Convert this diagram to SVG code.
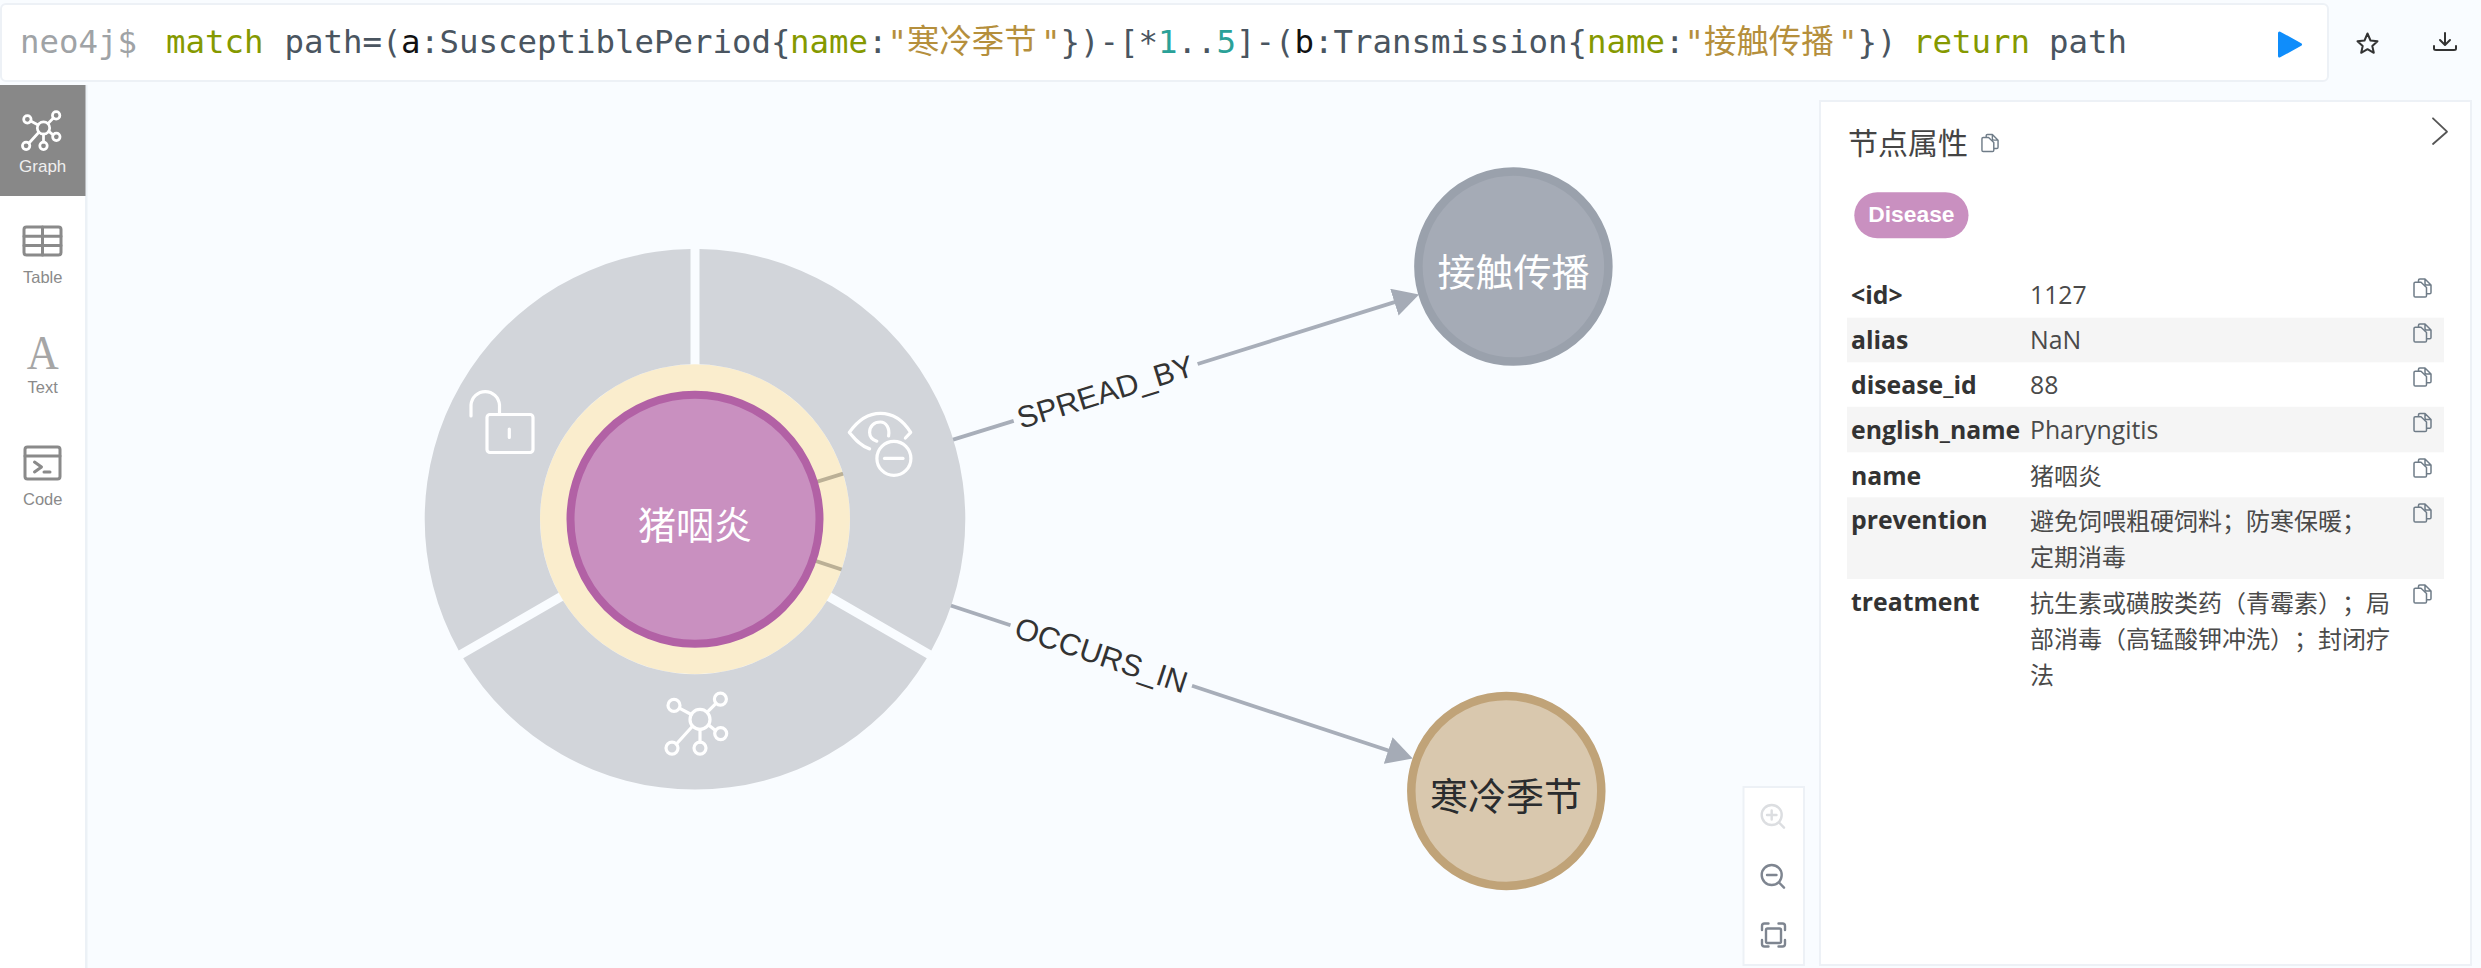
<svg xmlns="http://www.w3.org/2000/svg" width="2481" height="968" viewBox="0 0 2481 968">
<style>
.q{font-family:"DejaVu Sans Mono","Liberation Mono","Noto Sans CJK SC",monospace;font-size:32.4px;fill:#4a5560}
.kw{fill:#859900}.str{fill:#b58f3c}.num{fill:#2aa198}.var{fill:#111}
.cn{font-family:"Noto Sans CJK SC",sans-serif}
.side{font-family:"Liberation Sans",Arial,sans-serif;font-size:16.5px;text-anchor:middle;fill:#8a8a8a}
.ic{fill:none;stroke:#8a8a8a;stroke-width:3;stroke-linecap:round;stroke-linejoin:round}
.wh{fill:none;stroke:#fff;stroke-width:3.2;stroke-linecap:round;stroke-linejoin:round}
.seg{fill:#d2d5da}
.rel{fill:none;stroke:#a8aeb9;stroke-width:3.8}
.rl{font-family:"Liberation Sans",Arial,sans-serif;font-size:30.500px;fill:#333;text-anchor:middle}
.nl{font-family:"Noto Sans CJK SC",sans-serif;font-size:38px;text-anchor:middle}
.k{font-family:"Open Sans","Noto Sans CJK SC",sans-serif;font-size:24.800px;font-weight:700;fill:#333}
.v{font-family:"Open Sans","Noto Sans CJK SC",sans-serif;font-size:24.800px;fill:#4a4a4a}
.vc{font-family:"Noto Sans CJK SC",sans-serif;font-size:24px;fill:#4a4a4a;text-spacing-trim:space-all}
.alt{fill:#f5f5f5}
.card{fill:#fff;stroke:#edf1f6;stroke-width:2}
</style>
<defs>
<marker id="arrow" markerUnits="userSpaceOnUse" markerWidth="26" markerHeight="28" viewBox="0 0 24 26" refX="18" refY="13" orient="auto"><path d="M0,0L24,13L0,26Z" fill="#a5abb6"/></marker>
<symbol id="copy" viewBox="0 0 19 20" overflow="visible"><path d="M5.500,4V2.200Q5.500,1 6.800,1H12L18,7V14.500Q18,15.800 16.700,15.800H13.500M12,1V5.500Q12,7 13.500,7H18M1,5.500Q1,4.200 2.300,4.200H8L13.500,9.500V17.700Q13.500,19 12.200,19H2.300Q1,19 1,17.700Z" fill="none" stroke="#6f7c88" stroke-width="1.500" stroke-linejoin="round"/></symbol>
<g id="net-glyph">
<circle cx="0" cy="0" r="10"/><circle cx="-26" cy="-14" r="6"/><circle cx="20.400" cy="-20.300" r="6"/><circle cx="20.700" cy="14.200" r="6"/><circle cx="0" cy="28.700" r="6"/><circle cx="-28" cy="28.700" r="6"/>
<path d="M-8.700,-4.900L-20.700,-11.200M7.300,-7.300L16,-16M8.600,5.500L15.500,11M0,10V22.700M-7.500,6.800L-23.600,24.600"/>
</g>
</defs>
<rect id="bg" width="2481" height="968" fill="#f9fcff"/>

<g id="query-bar">
<rect x="1" y="4" width="2327" height="77" rx="5" class="card"/>
<text y="53" class="q" style="fill:#9fa3a6"><tspan x="20">neo4j$</tspan></text>
<text y="53" class="q"><tspan x="166" class="kw">match</tspan><tspan x="284.500">path=(</tspan><tspan x="401" class="var">a</tspan><tspan x="420">:SusceptiblePeriod{</tspan><tspan x="790" class="kw">name</tspan><tspan x="868">:</tspan><tspan x="887.500" class="str">"</tspan><tspan x="907" class="str cn">寒冷季节</tspan><tspan x="1041" class="str">"</tspan><tspan x="1060.500">})-[*</tspan><tspan x="1158" class="num">1</tspan><tspan x="1177.500">..</tspan><tspan x="1216.500" class="num">5</tspan><tspan x="1236">]-(</tspan><tspan x="1294.500" class="var">b</tspan><tspan x="1314">:Transmission{</tspan><tspan x="1587" class="kw">name</tspan><tspan x="1665">:</tspan><tspan x="1684.500" class="str">"</tspan><tspan x="1704" class="str cn">接触传播</tspan><tspan x="1838" class="str">"</tspan><tspan x="1857.500">})</tspan><tspan x="1913" class="kw">return</tspan><tspan x="2049">path</tspan></text>
<path d="M2279.500,33L2300.500,44.500L2279.500,56Z" fill="#0f8dfb" stroke="#0f8dfb" stroke-width="3" stroke-linejoin="round"/>
<path d="M2367.500,33.500L2370.500,40.500L2377.500,41.200L2372.300,46L2373.800,52.800L2367.500,49.200L2361.200,52.800L2362.700,46L2357.500,41.200L2364.500,40.500Z" fill="none" stroke="#333" stroke-width="2" stroke-linejoin="round"/>
<path d="M2445,33V44M2440,40L2445,45L2450,40M2434,46V48.500Q2434,50 2436,50H2454Q2456,50 2456,48.500V46" fill="none" stroke="#333" stroke-width="2" stroke-linecap="round" stroke-linejoin="round"/>
</g>

<g id="sidebar">
<rect x="0" y="85" width="85" height="883" fill="#fff"/>
<rect x="85" y="85" width="2.500" height="883" fill="#ecf1f6"/>
<rect x="0" y="85" width="85.500" height="111" fill="#888"/>
<g id="tab-graph">
<g class="wh" transform="translate(43.500,128) scale(.62)" style="stroke-width:4.400"><use href="#net-glyph"/></g>
<text x="42.700" y="171.700" class="side" style="fill:#efefef;font-size:17px">Graph</text>
</g>
<g id="tab-table">
<rect x="24" y="227" width="37" height="28" rx="2.500" class="ic"/><path d="M24,236.300H61M24,245.600H61M42.500,227V255" class="ic"/>
<text x="42.700" y="282.700" class="side">Table</text>
</g>
<g id="tab-text">
<text x="42.700" y="369" textLength="32" lengthAdjust="spacingAndGlyphs" style="font-family:'Liberation Serif',serif;font-size:49px;fill:#a6a6a6;text-anchor:middle">A</text>
<text x="42.700" y="392.700" class="side">Text</text>
</g>
<g id="tab-code">
<rect x="25" y="447" width="35" height="32" rx="2.500" class="ic"/><path d="M25,456H60M34.500,462L41.500,467L34.500,472M44,472H50" class="ic"/>
<text x="42.700" y="505" class="side">Code</text>
</g>
</g>

<g id="connectors">
<path class="rel" d="M700,517.800L1013.700,420.900"/>
<path class="rel" marker-end="url(#arrow)" d="M1197.600,364L1412.900,296.400"/>
<path class="rel" d="M700,522.700L1010.500,625.200"/>
<path class="rel" marker-end="url(#arrow)" d="M1192,685.800L1406.600,756.500"/>
<text class="rl" transform="translate(1105.600,392.400) rotate(-17.200)" y="10">SPREAD_BY</text>
<text class="rl" transform="translate(1101.200,655.500) rotate(18.400)" y="10">OCCURS_IN</text>
</g>

<g id="node-disease">
<circle cx="695" cy="519.300" r="155" fill="#ffbc1b" fill-opacity=".22"/>
<path class="seg" d="M699.500,249.040A270.300,270.300 0 0 1 931.300,650.530L831.420,592.870A155,155 0 0 0 699.500,364.370Z"/>
<path class="seg" d="M690.500,249.040A270.300,270.300 0 0 0 458.700,650.530L558.580,592.870A155,155 0 0 1 690.500,364.370Z"/>
<path class="seg" d="M926.800,658.330A270.300,270.300 0 0 1 463.200,658.330L563.080,600.670A155,155 0 0 0 826.920,600.670Z"/>
<g class="wh"><rect x="487" y="414.500" width="46" height="38" rx="3"/><path d="M471,416V405A14.300,14.700 0 0 1 499.500,405V414.500M509.300,429V437.500"/></g>
<g class="wh"><path d="M869.600,448.900C860,446 854,438 849.300,432.400C858,420 869,413.300 880.400,413.300C892,413.300 903,420 910.700,432.400L905.400,438M888.600,436C890,428 886,422 880.400,422C874,422 869.600,426 869.600,432.400C869.600,436 872,439.500 876.800,441.200"/><circle cx="893.900" cy="458.400" r="17"/><path d="M884.500,458.400H903"/></g>
<g class="wh" transform="translate(700,719.400)"><use href="#net-glyph"/></g>
<circle cx="695" cy="519.300" r="124.500" fill="#c990c0" stroke="#b261a5" stroke-width="8"/>
<text x="695" y="538.500" class="nl" fill="#fff">猪咽炎</text>
</g>

<g id="node-transmission">
<circle cx="1513.400" cy="266.600" r="95" fill="#a5abb6" stroke="#9aa1ac" stroke-width="8.500"/>
<text x="1513.400" y="286" class="nl" fill="#fff">接触传播</text>
</g>

<g id="node-period">
<circle cx="1506.300" cy="791" r="95" fill="#d9c8ae" stroke="#c0a378" stroke-width="8.500"/>
<text x="1506" y="810" class="nl" fill="#2a2c2e">寒冷季节</text>
</g>

<g id="zoom-controls">
<rect x="1743.500" y="787" width="60.500" height="178" class="card"/>
<g fill="none" stroke="#dcdee1" stroke-width="2.400" stroke-linecap="round"><circle cx="1771.700" cy="815" r="10"/><path d="M1779,822.500L1784,827.700M1767,815H1776.500M1771.700,810.500V819.500"/></g>
<g fill="none" stroke="#7e8590" stroke-width="2.400" stroke-linecap="round"><circle cx="1771.700" cy="875" r="10"/><path d="M1779,882.500L1784,887.700M1767,875H1776.500"/></g>
<g fill="none" stroke="#7e8590" stroke-width="2.400" stroke-linecap="round"><rect x="1766" y="928.500" width="15" height="14.500" rx="1.500"/><path d="M1762,930V926Q1762,923.500 1764.500,923.500H1768.500M1778.500,923.500H1782.500Q1785,923.500 1785,926V930M1785,940V944Q1785,946.500 1782.500,946.500H1778.500M1768.500,946.500H1764.500Q1762,946.500 1762,944V940"/></g>
</g>

<g id="properties-panel">
<rect x="1820" y="101" width="651" height="864" class="card"/>
<text x="1848" y="154" class="cn" style="font-size:30px;fill:#444">节点属性</text>
<use href="#copy" x="1981" y="133" width="18" height="20"/>
<path d="M2433,118.300L2447,131.700L2433,144" fill="none" stroke="#555" stroke-width="1.800" stroke-linecap="round" stroke-linejoin="round"/>
<rect x="1854.300" y="192.300" width="114.200" height="46" rx="23" fill="#c990c0"/>
<text x="1911.400" y="221.700" style="font-family:'Liberation Sans',Arial,sans-serif;font-size:22.800px;font-weight:700;fill:#fff;text-anchor:middle">Disease</text>
<rect x="1847" y="317.700" width="597" height="44.600" class="alt"/>
<rect x="1847" y="406.800" width="597" height="45.500" class="alt"/>
<rect x="1847" y="497.300" width="597" height="81.700" class="alt"/>
<text x="1851" y="304" class="k">&lt;id&gt;</text><text x="2030" y="304" class="v">1127</text>
<text x="1851" y="349" class="k">alias</text><text x="2030" y="349" class="v">NaN</text>
<text x="1851" y="393.500" class="k">disease_id</text><text x="2030" y="393.500" class="v">88</text>
<text x="1851" y="439" class="k">english_name</text><text x="2030" y="439" class="v">Pharyngitis</text>
<text x="1851" y="485" class="k">name</text><text x="2030" y="485" class="vc">猪咽炎</text>
<text x="1851" y="529" class="k">prevention</text><text x="2030" y="530" class="vc">避免饲喂粗硬饲料；防寒保暖；</text><text x="2030" y="566" class="vc">定期消毒</text>
<text x="1851" y="611" class="k">treatment</text><text x="2030" y="612" class="vc">抗生素或磺胺类药（青霉素）；局</text><text x="2030" y="648" class="vc">部消毒（高锰酸钾冲洗）；封闭疗</text><text x="2030" y="684" class="vc">法</text>
<use href="#copy" x="2413" y="278" width="19" height="20"/>
<use href="#copy" x="2413" y="323" width="19" height="20"/>
<use href="#copy" x="2413" y="367" width="19" height="20"/>
<use href="#copy" x="2413" y="412.500" width="19" height="20"/>
<use href="#copy" x="2413" y="458" width="19" height="20"/>
<use href="#copy" x="2413" y="503" width="19" height="20"/>
<use href="#copy" x="2413" y="584" width="19" height="20"/>
</g>
</svg>
